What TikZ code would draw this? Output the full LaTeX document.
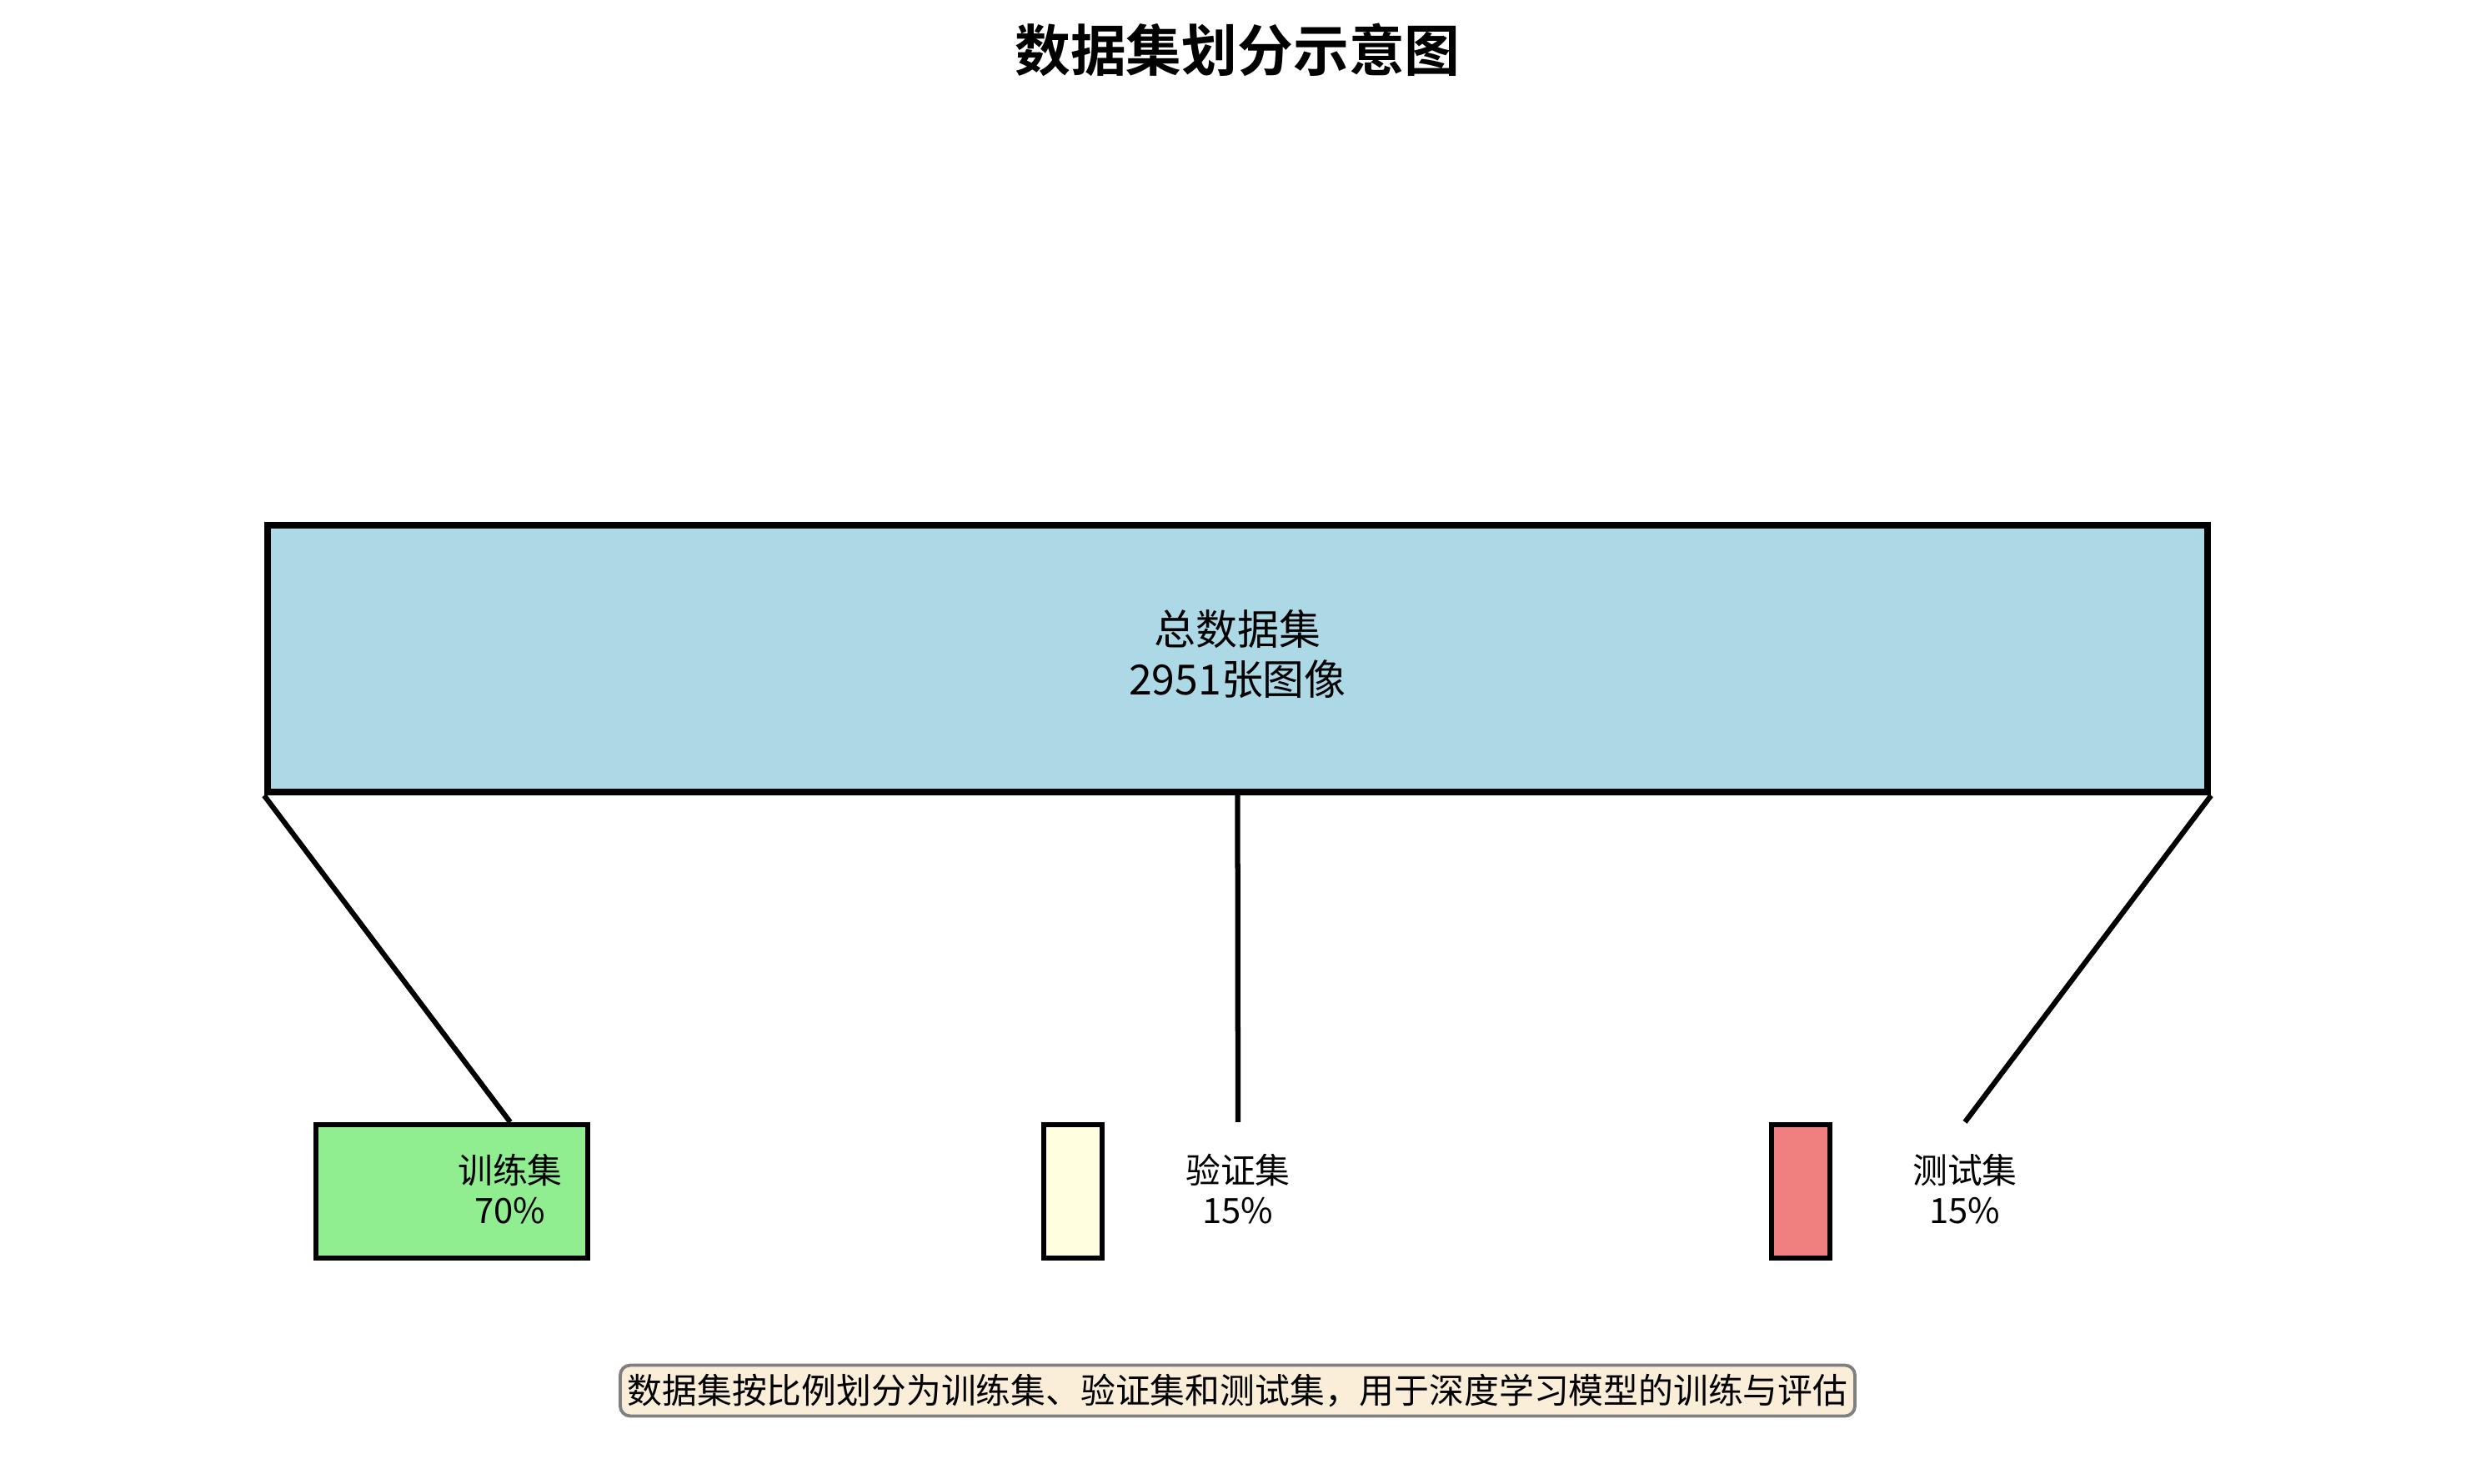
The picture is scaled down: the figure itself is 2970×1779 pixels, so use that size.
\documentclass[tikz,border=0pt]{standalone}
\usepackage{fontspec}
\setmainfont{Noto Sans CJK SC}[BoldFont={Noto Sans CJK SC Bold}]
\usepackage{tikz}
\usetikzlibrary{positioning,calc}
\definecolor{lightblue}{RGB}{173,216,230}
\definecolor{lightgreen}{RGB}{144,238,144}
\definecolor{lightyellow}{RGB}{255,255,224}
\definecolor{lightcoral}{RGB}{240,128,128}
\definecolor{wheat}{RGB}{245,222,179}

\begin{document}
\begin{tikzpicture}[x=0.1mm,y=-0.1mm,line width=1.78pt,
  box/.style={draw,line width=1.78pt,inner sep=0pt,minimum height=1.6cm},
  lbl/.style={align=center,inner sep=0pt,font=\fontsize{11.9}{13.7}\selectfont}]
\useasboundingbox (0,0) rectangle (2970,1779);
\node[font=\fontsize{19}{22}\selectfont\bfseries] (title) at (1484.5,60) {数据集划分示意图};
\node[box,line width=2.37pt,fill=lightblue,minimum width=23.27cm,minimum height=3.2cm] (all) at (1484.5,790) {};
\node[align=center,inner sep=0pt,font=\fontsize{14.2}{17.1}\selectfont] (alllbl) at (1484.5,785) {总数据集\\2951张图像};
\node[box,fill=lightgreen,minimum width=3.26cm] (train) at (542,1429) {};
\node[box,fill=lightyellow,minimum width=0.7cm] (val) at (1287,1429) {};
\node[box,fill=lightcoral,minimum width=0.7cm] (test) at (2160,1429) {};
\node[lbl] (trainlbl) at (612,1426) {训练集\\70\%};
\node[lbl] (vallbl) at (1485,1426) {验证集\\15\%};
\node[lbl] (testlbl) at (2357,1426) {测试集\\15\%};
\draw (all.south west) -- (trainlbl |- train.north);
\draw (all.south) -- (vallbl |- val.north);
\draw (all.south east) -- (testlbl |- test.north);
\node[draw=gray,fill=wheat!50,rounded corners=1.2mm,line width=1.1pt,minimum width=14.81cm,minimum height=0.61cm,inner sep=0pt,font=\fontsize{11.9}{13.7}\selectfont] (note) at (1484.5,1668) {数据集按比例划分为训练集、验证集和测试集，用于深度学习模型的训练与评估};
\end{tikzpicture}
\end{document}
